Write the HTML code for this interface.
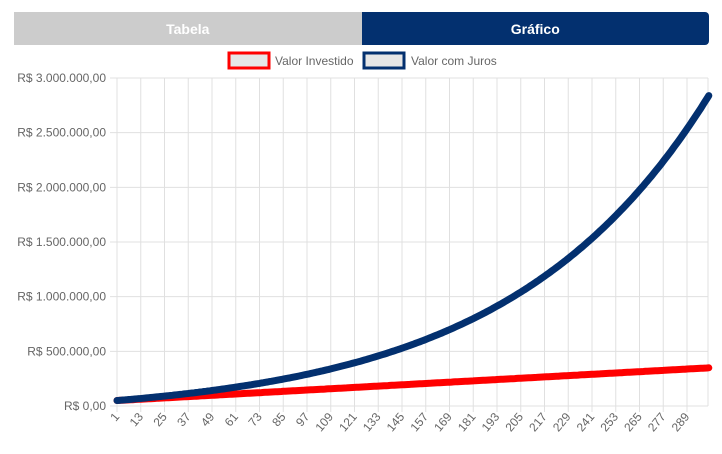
<!DOCTYPE html>
<html><head><meta charset="utf-8"><style>
body{margin:0;background:#fff;width:722px;height:454px;overflow:hidden;font-family:"Liberation Sans",sans-serif}
.tabs{position:absolute;left:14px;top:12px;width:695px;height:33px;display:flex}
.t{flex:1;display:flex;align-items:center;justify-content:center;color:#fff;font-weight:bold;font-size:14px}
.a{background:#cccccc}.b{background:#03306f;border-radius:0 4px 4px 0}
svg{position:absolute;left:0;top:0}
</style></head><body>
<div class="tabs"><div class="t a">Tabela</div><div class="t b">Gráfico</div></div>
<svg id="s" width="722" height="454" font-family="Liberation Sans, sans-serif" font-size="12" fill="#666"></svg>
<script>
var s=document.getElementById('s'),h='';
var x0=117,dx=570/288,y0=406,k=328/3000000;
h+='<rect x="229" y="53" width="40" height="15" fill="#e6e6e6" stroke="#ff0000" stroke-width="3"/><text x="275" y="65">Valor Investido</text>';
h+='<rect x="364" y="53" width="40" height="15" fill="#e6e6e6" stroke="#03306f" stroke-width="3"/><text x="411" y="65">Valor com Juros</text>';
var lab=['R$ 0,00','R$ 500.000,00','R$ 1.000.000,00','R$ 1.500.000,00','R$ 2.000.000,00','R$ 2.500.000,00','R$ 3.000.000,00'];
for(var i=0;i<7;i++){var y=y0-i*500000*k;h+='<line x1="110" x2="708" y1="'+y+'" y2="'+y+'" stroke="#e0e0e0"/><text x="106" y="'+(y+4)+'" text-anchor="end">'+lab[i]+'</text>';}
for(var j=0;j<=24;j++){var x=x0+j*12*dx;h+='<line x1="'+x+'" x2="'+x+'" y1="78" y2="412" stroke="#e0e0e0"/><text transform="translate('+(x+3)+',417) rotate(-50)" text-anchor="end">'+(1+12*j)+'</text>';}
h+='<line x1="708" x2="708" y1="78" y2="406" stroke="#e0e0e0"/>';
var pr='',pb='',v=50000;
for(var n=0;n<300;n++){var x=x0+n*dx;pr+=x.toFixed(1)+','+(y0-(50000+1000*n)*k).toFixed(1)+' ';pb+=x.toFixed(1)+','+(y0-v*k).toFixed(1)+' ';v=v*1.01+1000;}
h+='<polyline points="'+pr+'" fill="none" stroke="#ff0000" stroke-width="7" stroke-linecap="round"/>';
h+='<polyline points="'+pb+'" fill="none" stroke="#03306f" stroke-width="7" stroke-linecap="round"/>';
s.innerHTML=h;
</script>
</body></html>
